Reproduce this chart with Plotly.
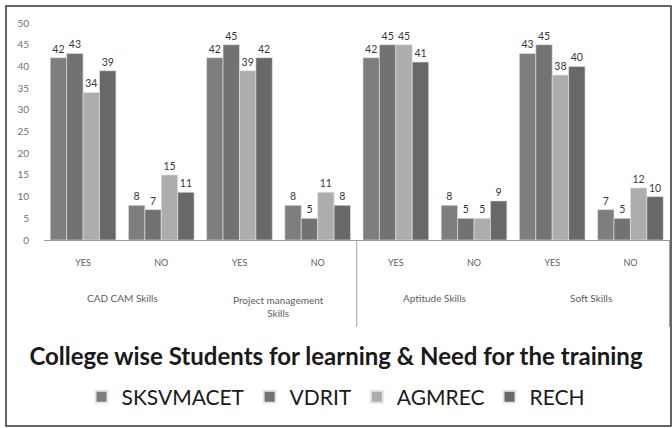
import plotly.graph_objects as go

# Survey counts per college, for each skill area and answer
skill_groups = ["CAD CAM Skills", "Project management<br>Skills", "Aptitude Skills", "Soft Skills"]
answers = ["YES", "NO"]
colleges = ["SKSVMACET", "VDRIT", "AGMREC", "RECH"]

sksvmacet = [42, 8, 42, 8, 42, 8, 43, 7]
vdrit = [43, 7, 45, 5, 45, 5, 45, 5]
agmrec = [34, 15, 39, 11, 45, 5, 38, 12]
rech = [39, 11, 42, 8, 41, 9, 40, 10]
series = [sksvmacet, vdrit, agmrec, rech]
colors = ["#7e7e7e", "#727272", "#adadad", "#686868"]

y_ticks = list(range(0, 51, 5))

W, H = 672, 428
ML, MR, MT, MB = 44, 2, 23, 188
PW, PH = W - ML - MR, H - MT - MB

categories = [f"{g}|{a}" for g in skill_groups for a in answers]
tick_text = [a for g in skill_groups for a in answers]

fig = go.Figure()
for name, vals, col in zip(colleges, series, colors):
    fig.add_trace(go.Bar(
        x=categories, y=vals, name=name,
        marker=dict(color=col, line=dict(color="#e6e6e6", width=0.6)),
        text=[str(v) for v in vals], textposition="outside",
        textfont=dict(size=10.5, color="#383838", family="Lato"),
        cliponaxis=False,
    ))

def px_x(px):
    return (px - ML) / PW

def px_y(py):
    return (H - MB - py) / PH

shapes = [
    # outer frame
    dict(type="rect", xref="paper", yref="paper",
         x0=px_x(6), x1=px_x(671), y0=px_y(426), y1=px_y(6),
         line=dict(color="#333333", width=1.5)),
]
# separators under the category axis
for xc in [3.5, 7.5]:
    shapes.append(dict(type="line", xref="x", yref="paper",
                       x0=xc, x1=xc, y0=0, y1=px_y(327),
                       line=dict(color="#a0a0a0", width=1)))

annotations = []
for i, g in enumerate(skill_groups):
    two = "<br>" in g
    annotations.append(dict(
        x=2 * i + 0.5, xref="x", y=0, yref="paper",
        text=g, showarrow=False, yanchor="middle",
        yshift=-66 if two else -58,
        font=dict(size=10, color="#606060", family="Lato"),
    ))

fig.update_layout(
    width=W, height=H,
    margin=dict(l=ML, r=MR, t=MT, b=MB),
    paper_bgcolor="white", plot_bgcolor="white",
    barmode="group", bargap=0.16, bargroupgap=0,
    title=dict(text="<b>College wise Students for learning & Need for the training</b>",
               x=0.5, xref="container", xanchor="center",
               y=1 - 357 / H, yref="container", yanchor="middle",
               font=dict(size=24, color="#1a1a1a", family="Lato")),
    legend=dict(orientation="h", x=0.5, xref="container", xanchor="center",
                y=1 - 397 / H, yref="container", yanchor="middle",
                font=dict(size=21, color="#1a1a1a", family="Lato"),
                itemsizing="constant"),
    shapes=shapes, annotations=annotations,
    xaxis=dict(tickmode="array", tickvals=categories, ticktext=tick_text,
               showline=True, linecolor="#9a9a9a", linewidth=1,
               ticks="", tickfont=dict(size=9, color="#606060", family="Lato"),
               ticklabelstandoff=14, showgrid=False, fixedrange=True),
    yaxis=dict(range=[0, 50], tickvals=y_ticks, showgrid=False, zeroline=False,
               showline=False, ticks="",
               tickfont=dict(size=10, color="#707070", family="Lato"),
               ticklabelstandoff=14, fixedrange=True),
    showlegend=True,
)

fig.write_html("out.html")
